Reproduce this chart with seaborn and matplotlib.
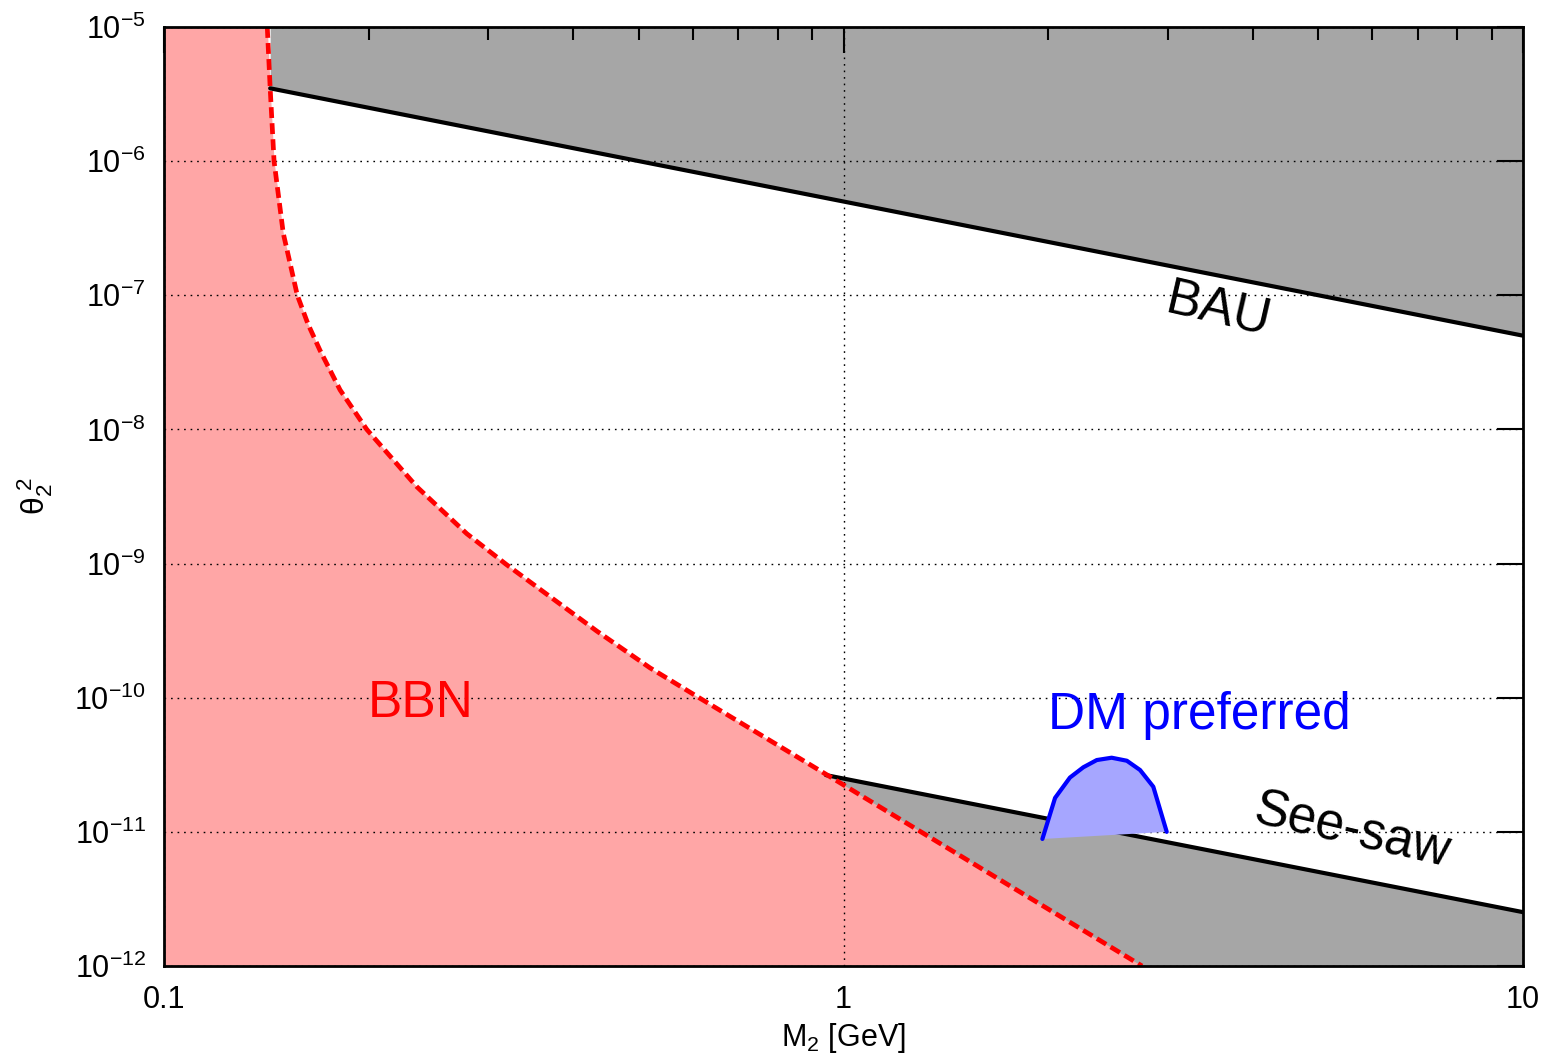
import numpy as np
import pandas as pd
import matplotlib
matplotlib.use("Agg")
import matplotlib.pyplot as plt
import seaborn as sns
from matplotlib.ticker import FixedLocator, NullLocator, LogLocator, NullFormatter

# ---------------- data ----------------
bau_mass = [0.1433, 10.0]
bau_theta2 = [3.49e-6, 5.0e-8]

seesaw_mass = [0.942, 10.0]
seesaw_theta2 = [2.65e-11, 2.52e-12]

bbn_mass = [0.1419, 0.1433, 0.1452, 0.1498, 0.1571, 0.1629, 0.1696, 0.1816,
            0.1988, 0.2355, 0.279, 0.3194, 0.4334, 0.519, 0.615, 0.955, 2.75]
bbn_theta2 = [1e-5, 3.5e-6, 1e-6, 2.9e-7, 1e-7, 6.1e-8, 3.9e-8, 1.97e-8,
              1e-8, 3.74e-9, 1.67e-9, 9.8e-10, 3.14e-10, 1.67e-10, 9.9e-11,
              2.58e-11, 1e-12]

dm_mass = [1.962, 2.048, 2.154, 2.254, 2.359, 2.481, 2.612, 2.732, 2.857, 2.99]
dm_theta2 = [8.85e-12, 1.79e-11, 2.54e-11, 3.03e-11, 3.43e-11, 3.57e-11,
             3.39e-11, 2.89e-11, 2.17e-11, 1.0e-11]

x_ticks = [0.1, 1, 10]
x_ticklabels = ["0.1", "1", "10"]
y_ticks = [1e-12, 1e-11, 1e-10, 1e-9, 1e-8, 1e-7, 1e-6, 1e-5]
y_ticklabels = [r"$\mathregular{10^{-12}}$", r"$\mathregular{10^{-11}}$",
                r"$\mathregular{10^{-10}}$", r"$\mathregular{10^{-9}}$",
                r"$\mathregular{10^{-8}}$", r"$\mathregular{10^{-7}}$",
                r"$\mathregular{10^{-6}}$", r"$\mathregular{10^{-5}}$"]
x_range = (0.1, 10)
y_range = (1e-12, 1e-5)

# ---------------- style ----------------
sns.set_theme(style="white")
plt.rcParams["font.family"] = ["Liberation Sans", "DejaVu Sans"]
plt.rcParams["mathtext.fontset"] = "custom"
plt.rcParams["mathtext.rm"] = "Liberation Sans"
plt.rcParams["mathtext.it"] = "Liberation Sans:italic"
plt.rcParams["axes.unicode_minus"] = False

GRAY = "#a6a6a6"
PINK = "#ffa6a6"
LBLUE = "#a6a6ff"

fig = plt.figure(figsize=(15.51, 10.61), dpi=100)
ax = fig.add_axes([0.10574, 0.08954, 0.87621, 0.88501])
ax.set_xscale("log")
ax.set_yscale("log")
ax.set_xlim(*x_range)
ax.set_ylim(*y_range)

# excluded regions
ax.fill_between(bau_mass, bau_theta2, y_range[1], color=GRAY, lw=0, zorder=1)
ax.fill_between(seesaw_mass, y_range[0], seesaw_theta2, color=GRAY, lw=0, zorder=1)
ax.fill_betweenx(bbn_theta2, x_range[0], bbn_mass, color=PINK, lw=0, zorder=1.5)

# lines
bau_df = pd.DataFrame({"M": bau_mass, "t": bau_theta2})
ss_df = pd.DataFrame({"M": seesaw_mass, "t": seesaw_theta2})
bbn_df = pd.DataFrame({"M": bbn_mass, "t": bbn_theta2})
dm_df = pd.DataFrame({"M": dm_mass, "t": dm_theta2})

sns.lineplot(data=bau_df, x="M", y="t", sort=False, color="black", lw=3, ax=ax, zorder=3)
sns.lineplot(data=ss_df, x="M", y="t", sort=False, color="black", lw=3, ax=ax, zorder=3)
sns.lineplot(data=bbn_df, x="M", y="t", sort=False, color="#ff0000", lw=3.4,
             dashes=False, ax=ax, zorder=3.5)
ax.lines[-1].set_dashes((2.3, 1.1))
ax.lines[-1].set_solid_joinstyle("round")

ax.fill(dm_mass, dm_theta2, color=LBLUE, lw=0, zorder=4)
sns.lineplot(data=dm_df, x="M", y="t", sort=False, color="#0000ff", lw=3, ax=ax, zorder=4.5)

# grid
ax.set_axisbelow(False)
ax.grid(True, which="major", color="black", lw=1, ls=(0, (1.2, 3.5)), zorder=2.5)

# ticks
ax.xaxis.set_major_locator(FixedLocator(x_ticks))
ax.set_xticklabels(x_ticklabels)
ax.xaxis.set_minor_locator(LogLocator(base=10, subs=np.arange(2, 10)))
ax.xaxis.set_minor_formatter(NullFormatter())
ax.yaxis.set_major_locator(FixedLocator(y_ticks))
ax.set_yticklabels(y_ticklabels)
ax.yaxis.set_minor_locator(NullLocator())
ax.tick_params(which="both", direction="in", top=True, right=True, colors="black",
               labelsize=22, width=1.5)
ax.tick_params(which="major", length=19)
ax.tick_params(which="minor", length=9.5)
ax.tick_params(axis="x", which="major", pad=14)
ax.tick_params(axis="y", which="major", pad=13)

for s in ax.spines.values():
    s.set_color("black")
    s.set_linewidth(2)
    s.set_zorder(6)

ax.set_xlabel(r"M$_2$ [GeV]", fontsize=22, color="black", labelpad=4)
ax.set_ylabel(r"θ$_2^{\ 2}$", fontsize=23, color="black", labelpad=14)

# annotations
ax.text(3.56, 7.8e-8, "BAU", fontsize=37, color="black", rotation=-13,
        rotation_mode="anchor", ha="center", va="center", zorder=5)
ax.text(5.6, 1.0e-11, "See-saw", fontsize=37, color="black", rotation=-13,
        rotation_mode="anchor", ha="center", va="center", zorder=5)
ax.text(0.2389, 7.18e-11, "BBN", fontsize=37, color="#ff0000",
        ha="center", va="baseline", zorder=5)
ax.text(2.0, 5.85e-11, "DM preferred", fontsize=37, color="#0000ff",
        ha="left", va="baseline", zorder=5)

fig.savefig("out.png", dpi=100)
